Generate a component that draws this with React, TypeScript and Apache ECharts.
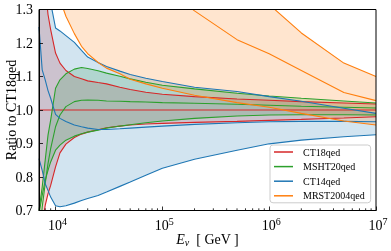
import React, { useEffect, useRef } from 'react';
import * as echarts from 'echarts';

// Neutrino energy grid (GeV)
const energies = [7000, 7500, 8000, 8500, 9000, 10000, 11000, 12500, 15000, 17500, 20000, 25000, 30000, 40000, 50000, 70000, 1e5, 2e5, 5e5, 1e6, 2e6, 5e6, 1e7];

// CT18qed (ratio to itself)
const ct18Upper = [1.6, 1.48, 1.37, 1.285, 1.24, 1.17, 1.14, 1.118, 1.1, 1.093, 1.087, 1.082, 1.078, 1.068, 1.061, 1.053, 1.047, 1.04, 1.033, 1.029, 1.025, 1.021, 1.018];
const ct18Center = [1, 1, 1, 1, 1, 1, 1, 1, 1, 1, 1, 1, 1, 1, 1, 1, 1, 1, 1, 1, 1, 1, 1];
const ct18Lower = [0.55, 0.65, 0.715, 0.75, 0.775, 0.83, 0.872, 0.898, 0.918, 0.928, 0.934, 0.941, 0.947, 0.952, 0.955, 0.958, 0.96, 0.963, 0.966, 0.969, 0.972, 0.976, 0.98];

// MSHT20qed
const mshtUpper = [0.7, 0.77, 0.85, 0.925, 0.97, 1.065, 1.09, 1.108, 1.122, 1.127, 1.124, 1.117, 1.11, 1.101, 1.093, 1.083, 1.074, 1.063, 1.05, 1.042, 1.035, 1.027, 1.021];
const mshtCenter = [0.6, 0.71, 0.78, 0.84, 0.885, 0.95, 0.985, 1.01, 1.025, 1.029, 1.03, 1.029, 1.027, 1.026, 1.025, 1.024, 1.022, 1.02, 1.017, 1.014, 1.011, 1.008, 1.006];
const mshtLower = [0.69, 0.745, 0.79, 0.82, 0.845, 0.88, 0.895, 0.91, 0.922, 0.929, 0.934, 0.94, 0.946, 0.952, 0.956, 0.962, 0.967, 0.975, 0.982, 0.985, 0.986, 0.986, 0.985];

// CT14qed
const ct14Upper = [1.9, 1.8, 1.7, 1.6, 1.32, 1.245, 1.236, 1.222, 1.202, 1.178, 1.158, 1.142, 1.13, 1.116, 1.106, 1.095, 1.085, 1.068, 1.055, 1.04, 1.026, 1.005, 0.99];
const ct14Center = [1.248, 1.12, 1.09, 1.058, 1.035, 0.987, 0.975, 0.966, 0.955, 0.95, 0.946, 0.942, 0.942, 0.944, 0.946, 0.949, 0.952, 0.957, 0.962, 0.965, 0.966, 0.966, 0.965];
const ct14Lower = [0.855, 0.82, 0.78, 0.76, 0.74, 0.714, 0.711, 0.714, 0.722, 0.73, 0.736, 0.745, 0.755, 0.772, 0.785, 0.805, 0.826, 0.853, 0.88, 0.899, 0.91, 0.92, 0.926];

// MRST2004qed
const mrstUpper = [3, 2.9, 2.8, 2.7, 2.6, 2.5, 2.4, 2.3, 2.2, 2.1, 2.05, 2.0, 1.95, 1.9, 1.85, 1.8, 1.75, 1.6, 1.4, 1.315, 1.23, 1.14, 1.1];
const mrstCenter = [2.5, 2.4, 2.3, 2.2, 2.1, 2.0, 1.9, 1.8, 1.7, 1.65, 1.6, 1.55, 1.5, 1.45, 1.42, 1.39, 1.37, 1.296, 1.21, 1.168, 1.118, 1.052, 1.028];
const mrstLower = [1.9, 1.8, 1.7, 1.6, 1.52, 1.4, 1.33, 1.28, 1.228, 1.19, 1.168, 1.142, 1.125, 1.108, 1.092, 1.078, 1.065, 1.044, 1.022, 1.008, 0.99, 0.967, 0.955];

const legendNames = ['CT18qed', 'MSHT20qed', 'CT14qed', 'MRST2004qed'];
const bandColors = ['#d62728', '#2ca02c', '#1f77b4', '#ff7f0e'];

const xMajorTicks = [1e4, 1e5, 1e6, 1e7];
const xMajorExponents = ['4', '5', '6', '7'];
const xMinorTicks = [8000, 9000, 2e4, 3e4, 4e4, 5e4, 6e4, 7e4, 8e4, 9e4, 2e5, 3e5, 4e5, 5e5, 6e5, 7e5, 8e5, 9e5, 2e6, 3e6, 4e6, 5e6, 6e6, 7e6, 8e6, 9e6];

const FONT = 'Liberation Serif';

function rgba(hex: string, a: number) {
  const n = parseInt(hex.slice(1), 16);
  return `rgba(${(n >> 16) & 255},${(n >> 8) & 255},${n & 255},${a})`;
}

export default function App() {
  const ref = useRef<HTMLDivElement>(null);
  useEffect(() => {
    const chart = echarts.init(ref.current!, null, { renderer: 'svg' });
    const bands = [
      { name: legendNames[0], color: bandColors[0], upper: ct18Upper, center: ct18Center, lower: ct18Lower },
      { name: legendNames[1], color: bandColors[1], upper: mshtUpper, center: mshtCenter, lower: mshtLower },
      { name: legendNames[2], color: bandColors[2], upper: ct14Upper, center: ct14Center, lower: ct14Lower },
      { name: legendNames[3], color: bandColors[3], upper: mrstUpper, center: mrstCenter, lower: mrstLower },
    ];
    const series: any[] = [];
    bands.forEach((b) => {
      series.push({
        type: 'custom',
        name: b.name + ' band',
        silent: true,
        clip: true,
        z: 1,
        data: [[energies[0], b.center[0]]],
        encode: { x: 0, y: 1 },
        renderItem: (params: any, api: any) => {
          const up = energies.map((e, i) => api.coord([e, b.upper[i]]));
          const lo = energies.map((e, i) => api.coord([e, b.lower[i]])).reverse();
          const cs = params.coordSys;
          return {
            type: 'polygon',
            shape: { points: up.concat(lo) },
            style: { fill: rgba(b.color, 0.2), stroke: 'none' },
            clipPath: { type: 'rect', shape: { x: cs.x, y: cs.y, width: cs.width, height: cs.height } },
          };
        },
      });
    });
    bands.forEach((b) => {
      const mk = (arr: number[], name: string) => ({
        type: 'line',
        name,
        data: energies.map((e, i) => [e, arr[i]]),
        showSymbol: false,
        symbol: 'none',
        clip: true,
        z: 2,
        color: b.color,
        itemStyle: { color: b.color },
        lineStyle: { color: b.color, width: 1.1 },
        silent: true,
      });
      series.push(mk(b.upper, b.name + ' upper'));
      series.push(mk(b.lower, b.name + ' lower'));
      series.push(mk(b.center, b.name));
    });
    series.push({
      type: 'custom',
      name: 'minor ticks',
      silent: true,
      z: 4,
      data: xMinorTicks.map((t) => [t, 0.7]),
      encode: { x: 0, y: 1 },
      renderItem: (params: any, api: any) => {
        const p = api.coord([api.value(0), api.value(1)]);
        return {
          type: 'line',
          shape: { x1: p[0], y1: p[1], x2: p[0], y2: p[1] - 2.2 },
          style: { stroke: '#000', lineWidth: 0.8 },
        };
      },
    });
    series.push({
      type: 'custom',
      name: 'x tick labels',
      silent: true,
      clip: false,
      z: 4,
      data: xMajorTicks.map((t, i) => [t, 0.7, i]),
      encode: { x: 0, y: 1 },
      renderItem: (params: any, api: any) => {
        const p = api.coord([api.value(0), api.value(1)]);
        const idx = api.value(2);
        return {
          type: 'text',
          x: p[0] + 2,
          y: p[1] + 2,
          style: {
            text: `{b|10}{s|${xMajorExponents[idx]}}`,
            align: 'center',
            verticalAlign: 'top',
            rich: {
              b: { fontFamily: FONT, fontSize: 14, fill: '#000', padding: [6, 0, 0, 0] },
              s: { fontFamily: FONT, fontSize: 10, fill: '#000', padding: [0, 0, 2, 0] },
            },
          },
        };
      },
    });

    const option: any = {
      animation: false,
      grid: {
        left: 39, top: 9.5, width: 337, height: 201,
        outerBoundsMode: 'none', containLabel: false,
        show: true, borderColor: '#000', borderWidth: 1, backgroundColor: 'transparent', z: 10,
      },
      legend: {
        data: legendNames.map((n) => ({ name: n, icon: 'rect' })),
        orient: 'vertical',
        left: 270,
        top: 145,
        itemWidth: 19,
        itemHeight: 1.5,
        itemGap: 2.6,
        padding: [1, 6, 1, 4],
        backgroundColor: 'rgba(255,255,255,0.8)',
        borderColor: '#cccccc',
        borderWidth: 1,
        borderRadius: 3,
        textStyle: { fontFamily: FONT, fontSize: 10, color: '#000', lineHeight: 12, padding: [0, 0, 0, 5] },
        z: 20,
      },
      xAxis: {
        type: 'log',
        logBase: 10,
        min: 7000,
        max: 1e7,
        z: 12,
        axisLine: { show: true, lineStyle: { color: '#000', width: 1 } },
        axisTick: { show: true, inside: true, length: 4, lineStyle: { color: '#000', width: 0.8 } },
        splitLine: { show: false },
        axisLabel: { show: false },
        name: '{i|E}{sub|ν}{n|  [ GeV ]}',
        nameLocation: 'middle',
        nameGap: 21,
        nameMoveOverlap: false,
        nameTextStyle: {
          rich: {
            i: { fontFamily: FONT, fontStyle: 'italic', fontSize: 14, color: '#000' },
            sub: { fontFamily: FONT, fontStyle: 'italic', fontSize: 10, color: '#000', padding: [6, 0, 0, 0] },
            n: { fontFamily: FONT, fontSize: 14, color: '#000' },
          },
        },
      },
      yAxis: {
        type: 'value',
        min: 0.7,
        max: 1.3,
        interval: 0.1,
        z: 12,
        axisLine: { show: true, lineStyle: { color: '#000', width: 1 } },
        axisTick: { show: true, inside: true, length: 4, lineStyle: { color: '#000', width: 0.8 } },
        splitLine: { show: false },
        axisLabel: {
          margin: 6,
          fontFamily: FONT,
          fontSize: 14,
          color: '#000',
          formatter: (v: number) => v.toFixed(1),
        },
        name: 'Ratio to CT18qed',
        nameLocation: 'middle',
        nameGap: 21,
        nameMoveOverlap: false,
        nameTextStyle: { fontFamily: FONT, fontSize: 14, color: '#000' },
      },
      series,
    };
    chart.setOption(option);
    return () => chart.dispose();
  }, []);
  return <div ref={ref} style={{ position: 'fixed', left: 0, top: 0, width: 391, height: 251 }} />;
}
